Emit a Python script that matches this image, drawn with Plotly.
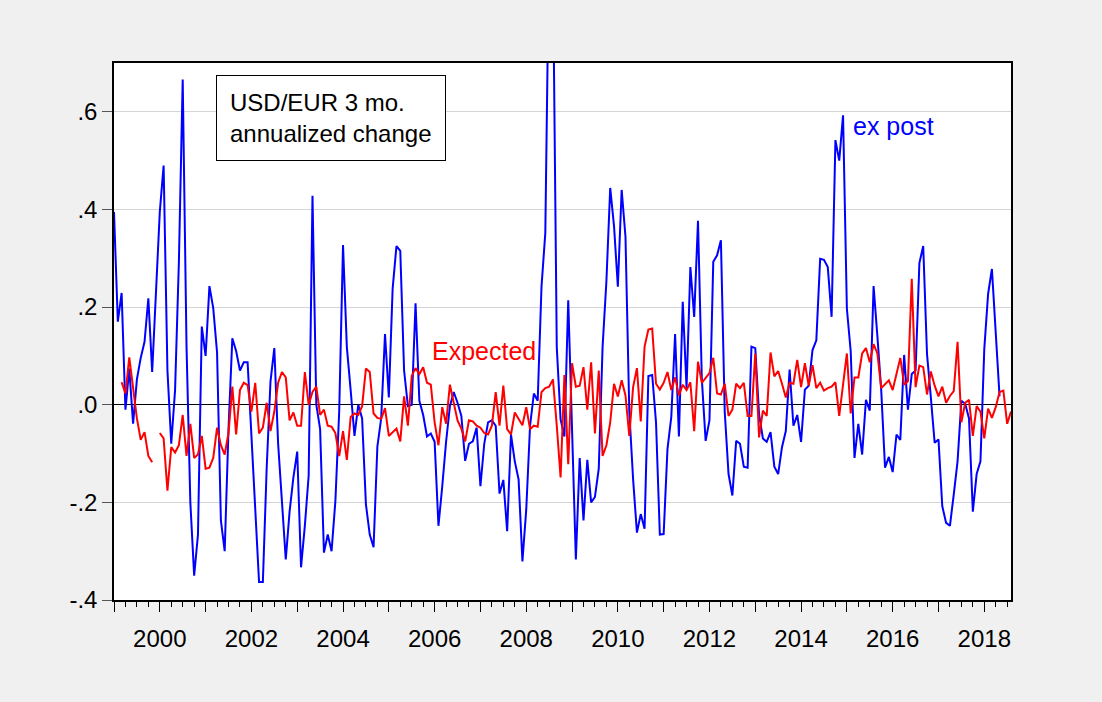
import plotly.graph_objects as go

# Monthly observations starting 1999M01
start_year = 1999

ex_post = [
    0.395, 0.170, 0.229, -0.010, 0.074, -0.039, 0.052, 0.096, 0.129, 0.218, 0.067, 0.235,
    0.395, 0.490, 0.070, -0.080, 0.030, 0.293, 0.666, 0.120, -0.200, -0.350, -0.266, 0.160,
    0.100, 0.243, 0.198, 0.107, -0.237, -0.300, -0.050, 0.136, 0.110, 0.070, 0.087, 0.087,
    -0.072, -0.233, -0.363, -0.363, -0.130, 0.048, 0.116, -0.080, -0.197, -0.317, -0.219, -0.149,
    -0.096, -0.333, -0.248, -0.145, 0.428, 0.000, -0.050, -0.303, -0.266, -0.300, -0.197, -0.014,
    0.327, 0.118, 0.030, -0.064, 0.000, -0.028, -0.204, -0.266, -0.292, -0.086, -0.028, 0.145,
    0.015, 0.238, 0.325, 0.315, 0.070, -0.003, 0.000, 0.208, 0.008, -0.021, -0.065, -0.059,
    -0.076, -0.248, -0.167, -0.076, -0.003, 0.026, 0.004, -0.023, -0.115, -0.080, -0.075, -0.047,
    -0.167, -0.080, -0.036, -0.032, -0.043, -0.182, -0.154, -0.259, -0.061, -0.116, -0.153, -0.321,
    -0.215, -0.043, 0.023, 0.008, 0.242, 0.352, 0.950, 0.900, 0.118, -0.030, -0.065, 0.214,
    -0.050, -0.317, -0.109, -0.237, -0.113, -0.200, -0.189, -0.131, 0.118, 0.253, 0.444, 0.366,
    0.242, 0.440, 0.344, -0.014, -0.153, -0.262, -0.224, -0.254, 0.059, 0.061, -0.036, -0.266,
    -0.265, -0.091, -0.025, 0.145, -0.065, 0.211, 0.034, 0.282, 0.180, 0.377, 0.053, -0.074,
    -0.032, 0.293, 0.306, 0.337, -0.014, -0.142, -0.186, -0.074, -0.080, -0.127, -0.129, 0.119,
    0.116, -0.020, -0.069, -0.076, -0.056, -0.127, -0.142, -0.087, -0.054, 0.072, -0.043, -0.021,
    -0.076, 0.031, 0.039, 0.112, 0.132, 0.299, 0.297, 0.282, 0.180, 0.542, 0.500, 0.593,
    0.197, 0.110, -0.109, -0.039, -0.102, 0.010, -0.012, 0.243, 0.140, 0.030, -0.129, -0.107,
    -0.138, -0.061, -0.072, 0.102, -0.010, 0.063, 0.070, 0.290, 0.325, 0.103, 0.015, -0.078,
    -0.071, -0.208, -0.242, -0.248, -0.184, -0.116, 0.008, 0.002, -0.028, -0.219, -0.142, -0.116,
    0.114, 0.227, 0.278, 0.150, 0.017,
]

expected = [
    -0.042, None, 0.046, 0.023, 0.097, 0.030, -0.028, -0.072, -0.056, -0.105, -0.118, None,
    -0.058, -0.069, -0.176, -0.087, -0.098, -0.083, -0.021, -0.105, -0.039, -0.109, -0.102, -0.064,
    -0.131, -0.129, -0.109, -0.047, -0.083, -0.102, -0.058, 0.037, -0.061, 0.030, 0.045, 0.040,
    -0.014, 0.045, -0.059, -0.047, 0.004, -0.054, -0.014, 0.045, 0.067, 0.056, -0.032, -0.016,
    -0.043, -0.043, 0.067, 0.000, 0.026, 0.037, -0.021, -0.010, -0.043, -0.045, -0.058, -0.105,
    -0.054, -0.113, -0.025, -0.018, -0.021, -0.003, 0.074, 0.067, -0.018, -0.027, -0.029, -0.007,
    -0.064, -0.056, -0.049, -0.075, 0.017, -0.043, 0.059, 0.075, 0.063, 0.077, 0.045, 0.041,
    -0.036, -0.083, -0.005, -0.039, 0.041, 0.004, -0.032, -0.049, -0.075, -0.032, -0.034, -0.043,
    -0.047, -0.058, -0.061, -0.043, 0.026, -0.043, 0.039, -0.050, -0.061, -0.016, -0.029, -0.042,
    -0.005, -0.050, -0.043, -0.045, 0.026, 0.034, 0.037, 0.052, -0.043, -0.149, 0.061, -0.122,
    0.085, 0.037, 0.039, 0.077, -0.010, 0.087, -0.059, 0.070, -0.105, -0.083, -0.036, 0.043,
    0.017, 0.050, 0.019, -0.064, 0.036, 0.075, -0.034, 0.119, 0.154, 0.156, 0.043, 0.031,
    0.045, 0.067, 0.030, 0.056, 0.019, 0.041, 0.030, 0.046, -0.054, 0.088, 0.045, 0.056,
    0.065, 0.096, 0.023, 0.021, 0.043, -0.023, -0.010, 0.043, 0.034, 0.045, -0.023, -0.023,
    0.105, -0.067, -0.012, -0.023, 0.107, 0.058, 0.069, 0.043, 0.015, 0.045, 0.043, 0.092,
    0.036, 0.085, 0.039, 0.081, 0.034, 0.045, 0.029, 0.034, 0.037, 0.046, -0.023, 0.041,
    0.105, -0.018, 0.056, 0.056, 0.105, 0.116, 0.087, 0.124, 0.105, 0.034, 0.041, 0.050,
    0.030, 0.063, 0.096, 0.041, 0.048, 0.258, 0.036, 0.080, 0.077, 0.021, 0.068, 0.039,
    0.017, 0.037, 0.004, 0.018, 0.028, 0.129, -0.036, 0.004, 0.010, -0.064, -0.003, -0.014,
    -0.069, -0.008, -0.027, -0.005, 0.026, 0.029, -0.039, -0.014,
]

y_tickvals = [-0.4, -0.2, 0.0, 0.2, 0.4, 0.6]
y_ticktext = ["-.4", "-.2", ".0", ".2", ".4", ".6"]
years = list(range(1999, 2019))
x_ticktext = [str(y) if y % 2 == 0 else "" for y in years]

x_post = [start_year + i / 12 for i in range(len(ex_post))]
x_exp = [start_year + i / 12 for i in range(len(expected))]

FONT = "Liberation Sans, Arial, sans-serif"
BG = "#F0F0F0"

fig = go.Figure()
fig.add_trace(go.Scatter(x=x_post, y=ex_post, mode="lines", name="ex post",
                         line=dict(color="#0000FF", width=2)))
fig.add_trace(go.Scatter(x=x_exp, y=expected, mode="lines", name="Expected",
                         line=dict(color="#FF0000", width=2), connectgaps=False))

fig.update_layout(
    width=1102, height=702,
    margin=dict(l=114, r=91, t=63, b=102),
    paper_bgcolor=BG, plot_bgcolor="white",
    showlegend=False,
    font=dict(family=FONT, size=24, color="black"),
)

fig.update_xaxes(
    range=[start_year, start_year + (len(expected) - 1) / 12],
    tickmode="array", tickvals=years, ticktext=x_ticktext,
    ticks="outside", ticklen=10, tickcolor="black", tickwidth=1,
    ticklabelstandoff=6,
    showline=True, mirror=True, linecolor="black", linewidth=1.5,
    showgrid=False, zeroline=False,
    tickfont=dict(family=FONT, size=24, color="black"),
    minor=dict(tickmode="linear", tick0=1999, dtick=0.25, ticks="outside",
               ticklen=5, tickcolor="black", tickwidth=1, showgrid=False),
)
fig.update_yaxes(
    range=[-0.4, 0.7],
    tickmode="array", tickvals=y_tickvals, ticktext=y_ticktext,
    ticks="outside", ticklen=10, tickcolor="#555555", tickwidth=1,
    showline=True, mirror=True, linecolor="black", linewidth=1.5,
    showgrid=True, gridcolor="#D4D4D4", gridwidth=1,
    zeroline=True, zerolinecolor="black", zerolinewidth=1,
    tickfont=dict(family=FONT, size=24, color="black"),
)

fig.add_annotation(
    xref="paper", yref="paper", x=(216 - 114) / 897, y=(600 - 75) / 537,
    xanchor="left", yanchor="top", align="left", showarrow=False,
    text="USD/EUR 3 mo.<br>annualized change",
    font=dict(family=FONT, size=24, color="black"),
    bgcolor="white", bordercolor="black", borderwidth=1, borderpad=13,
)
fig.add_annotation(
    x=2015.09, y=0.571, xanchor="left", yanchor="middle", showarrow=False,
    text="ex post", font=dict(family=FONT, size=25, color="#0000FF"),
)
fig.add_annotation(
    x=2005.9, y=0.110, xanchor="left", yanchor="middle", showarrow=False,
    text="Expected", font=dict(family=FONT, size=25, color="#FF0000"),
)

fig.write_html(
    "out.html",
    config={"displayModeBar": False},
    post_script=(
        "document.body.style.margin='0';"
        "document.body.style.background='" + BG + "';"
        "document.documentElement.style.overflow='hidden';"
    ),
)
